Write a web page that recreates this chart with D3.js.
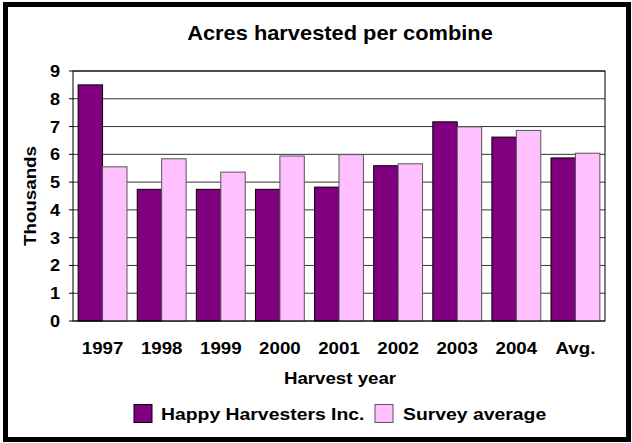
<!DOCTYPE html>
<html>
<head>
<meta charset="utf-8">
<script src="https://cdn.jsdelivr.net/npm/d3@7"></script>
<style>
  html, body { margin: 0; padding: 0; background: #fff; }
  svg { display: block; }
  text { font-family: "Liberation Sans", Arial, sans-serif; font-weight: bold; fill: #000; }
</style>
</head>
<body>
<script>
// Harvest years on the category axis
const categories = ["1997", "1998", "1999", "2000", "2001", "2002", "2003", "2004", "Avg."];
// Acres per combine, in thousands
const happyHarvesters = [8.50, 4.74, 4.74, 4.74, 4.82, 5.59, 7.17, 6.62, 5.87];
const surveyAverage   = [5.55, 5.84, 5.36, 5.94, 5.99, 5.66, 6.99, 6.86, 6.04];
const seriesNames = ["Happy Harvesters Inc.", "Survey average"];
const yTicks = [0, 1, 2, 3, 4, 5, 6, 7, 8, 9];

const W = 632, H = 443;
const plot = { left: 73, right: 605, top: 71, bottom: 321 };
const fills = ["#800080", "#ffc0ff"];
const strokes = ["#000", "#555"];

const svg = d3.select("body").append("svg").attr("width", W).attr("height", H);

// text helper: places a label, optionally widened horizontally
function label(x, y, str, size, anchor, sx, rotate) {
  const g = svg.append("g")
    .attr("transform", `translate(${x},${y})` + (rotate ? ` rotate(${rotate})` : ` scale(${sx || 1},1)`));
  return g.append("text")
    .attr("text-anchor", anchor || "middle")
    .style("font-size", size + "px")
    .text(str);
}

const x0 = d3.scaleBand().domain(categories).range([plot.left, plot.right]);
const x1 = d3.scaleBand().domain(seriesNames).range([0, x0.bandwidth()]).paddingOuter(0.21);
const y = d3.scaleLinear().domain([0, 9]).range([plot.bottom, plot.top]);

// gridlines
svg.append("g").selectAll("line").data(yTicks).join("line")
  .attr("x1", plot.left).attr("x2", plot.right)
  .attr("y1", d => y(d)).attr("y2", d => y(d))
  .attr("stroke", "#333").attr("stroke-width", 1);

// bars
const rows = categories.map((c, i) => ({ cat: c, vals: [happyHarvesters[i], surveyAverage[i]] }));
svg.append("g").selectAll("g").data(rows).join("g")
  .attr("transform", d => `translate(${x0(d.cat)},0)`)
  .selectAll("rect")
  .data(d => d.vals.map((v, k) => ({ v, k })))
  .join("rect")
  .attr("x", d => x1(seriesNames[d.k]))
  .attr("width", x1.bandwidth())
  .attr("y", d => y(d.v))
  .attr("height", d => y(0) - y(d.v))
  .attr("fill", d => fills[d.k])
  .attr("stroke", d => strokes[d.k])
  .attr("stroke-width", 1);

// plot frame
svg.append("rect")
  .attr("x", plot.left).attr("y", plot.top)
  .attr("width", plot.right - plot.left).attr("height", plot.bottom - plot.top)
  .attr("fill", "none").attr("stroke", "#000").attr("stroke-width", 1);

// y ticks
svg.append("g").selectAll("line").data(yTicks).join("line")
  .attr("x1", plot.left - 4).attr("x2", plot.left)
  .attr("y1", d => y(d)).attr("y2", d => y(d))
  .attr("stroke", "#000");
yTicks.forEach(t => label(60, y(t) + 6, String(t), 16.5, "end", 1.1));

// category labels
categories.forEach(c => label(x0(c) + x0.bandwidth() / 2, 354, c, 17, "middle", 1.1));

// titles
label(340, 40, "Acres harvested per combine", 19.5, "middle", 1.12);
label(340, 384, "Harvest year", 17, "middle", 1.1);
label(36, 196, "Thousands", 17, "middle", 1, -90).attr("textLength", 100).attr("lengthAdjust", "spacingAndGlyphs");

// legend
const legendItems = [
  { name: seriesNames[0], sw: 134, tx: 161 },
  { name: seriesNames[1], sw: 375, tx: 403 }
];
legendItems.forEach((d, k) => {
  svg.append("rect")
    .attr("x", d.sw).attr("y", 404.5).attr("width", 18).attr("height", 18)
    .attr("fill", fills[k]).attr("stroke", strokes[k]).attr("stroke-width", 1);
  label(d.tx, 420, d.name, 17, "start", 1.14);
});

// outer frame
svg.append("rect")
  .attr("x", 5.5).attr("y", 4.5).attr("width", W - 9).attr("height", H - 8)
  .attr("fill", "none").attr("stroke", "#000").attr("stroke-width", 5);
</script>
</body>
</html>
